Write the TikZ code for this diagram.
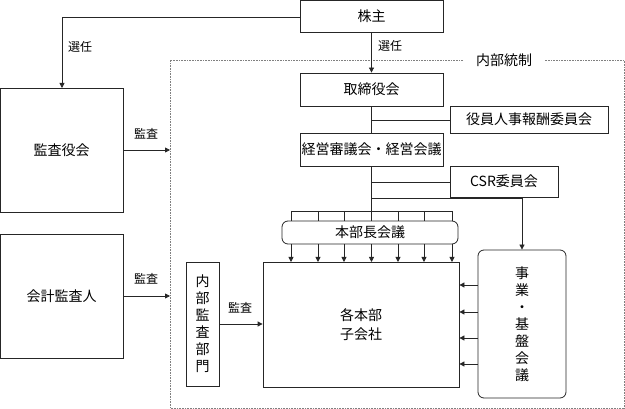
\documentclass[tikz,border=0pt]{standalone}
\usepackage{fontspec}
\setmainfont{Noto Sans CJK JP}
\usetikzlibrary{arrows.meta}
\begin{document}
\begin{tikzpicture}[x=1pt,y=-1pt,
  box/.style={draw=black!85,line width=0.8pt,inner sep=0pt,font=\fontsize{14}{16}\selectfont},
  rbox/.style={box,rounded corners=6pt},
  conn/.style={draw=black!85,line width=0.8pt},
  arr/.style={conn,-{Triangle[length=5pt,width=5pt]}},
  lbl/.style={font=\fontsize{12}{13}\selectfont,inner sep=0pt},
  vtext/.style={align=center,font=\fontsize{14}{17}\selectfont}]
\useasboundingbox (0,0) rectangle (625,409);
% dotted frame
\draw[gray,line width=0.6pt,dash pattern=on 0.8pt off 0.8pt]
  (463,60) -- (170,60) -- (170,408) -- (624,408) -- (624,60) -- (545,60);
\node[font=\fontsize{14}{16}\selectfont,inner sep=0pt] (frame) at (504,60) {内部統制};
\coordinate (fa) at (170,150);
\coordinate (fb) at (170,296);
% nodes
\node[box,minimum width=143pt,minimum height=32pt] (kb) at (371.5,16.5) {株主};
\node[box,minimum width=122.5pt,minimum height=124pt] (ky) at (61.75,150) {監査役会};
\node[box,minimum width=122.5pt,minimum height=124pt] (kk) at (61.75,296) {会計監査人};
\node[box,minimum width=143pt,minimum height=33pt] (tr) at (371.5,89.5) {取締役会};
\node[box,minimum width=158pt,minimum height=27pt] (yk) at (529,119.5) {役員人事報酬委員会};
\node[box,minimum width=143pt,minimum height=33pt] (ke) at (371.5,149.5) {経営審議会・経営会議};
\node[box,minimum width=108pt,minimum height=31pt] (csr) at (504,181.5) {CSR委員会};
\node[rbox,minimum width=176pt,minimum height=23pt] (hb) at (370,232.5) {本部長会議};
\node[box,minimum width=196pt,minimum height=125pt,align=center,
  font=\fontsize{14}{19}\selectfont] (kh) at (361,324.5) {各本部\\子会社};
\node[rbox,minimum width=88pt,minimum height=148pt] (jg) at (522,324) {};
\node[vtext] (jgt) at (jg.center) {事\\業\\・\\基\\盤\\会\\議};
\node[box,minimum width=33pt,minimum height=124pt] (nb) at (202.5,324) {};
\node[vtext] (nbt) at (nb.center) {内\\部\\監\\査\\部\\門};
% connectors
\draw[arr] (kb.west |- 0,17) -| (62,88);
\node[lbl] (l1) at (80,47) {選任};
\draw[arr] (ky.east) -- (fa);
\node[lbl] (l2) at (146,134) {監査};
\draw[arr] (kk.east) -- (fb);
\node[lbl] (l3) at (146,279) {監査};
\draw[arr] (nb.east) -- (kh.west |- nb.east);
\node[lbl] (l4) at (240,308) {監査};
\draw[arr] (kb.south) -- (tr.north);
\node[lbl] (l5) at (390,46) {選任};
\draw[conn] (tr.south) -- (ke.north);
\draw[conn] (371.5,120) -- (yk.west |- 0,120);
\draw[conn] (ke.south) -- (371.5,211);
\draw[conn] (371.5,182) -- (csr.west |- 0,182);
\draw[arr] (371.5,198) -| (jg.north);
\draw[conn] (291,211) -- (452,211);
\foreach \x in {291,318,344,371.5,398,424,452}{
  \draw[conn] (\x,211) -- (\x,221);
  \draw[arr] (\x,244) -- (\x,262);
}
\foreach \y in {285,312,338,364}{
  \draw[arr] (jg.west |- 0,\y) -- (kh.east |- 0,\y);
}
\end{tikzpicture}
\end{document}
